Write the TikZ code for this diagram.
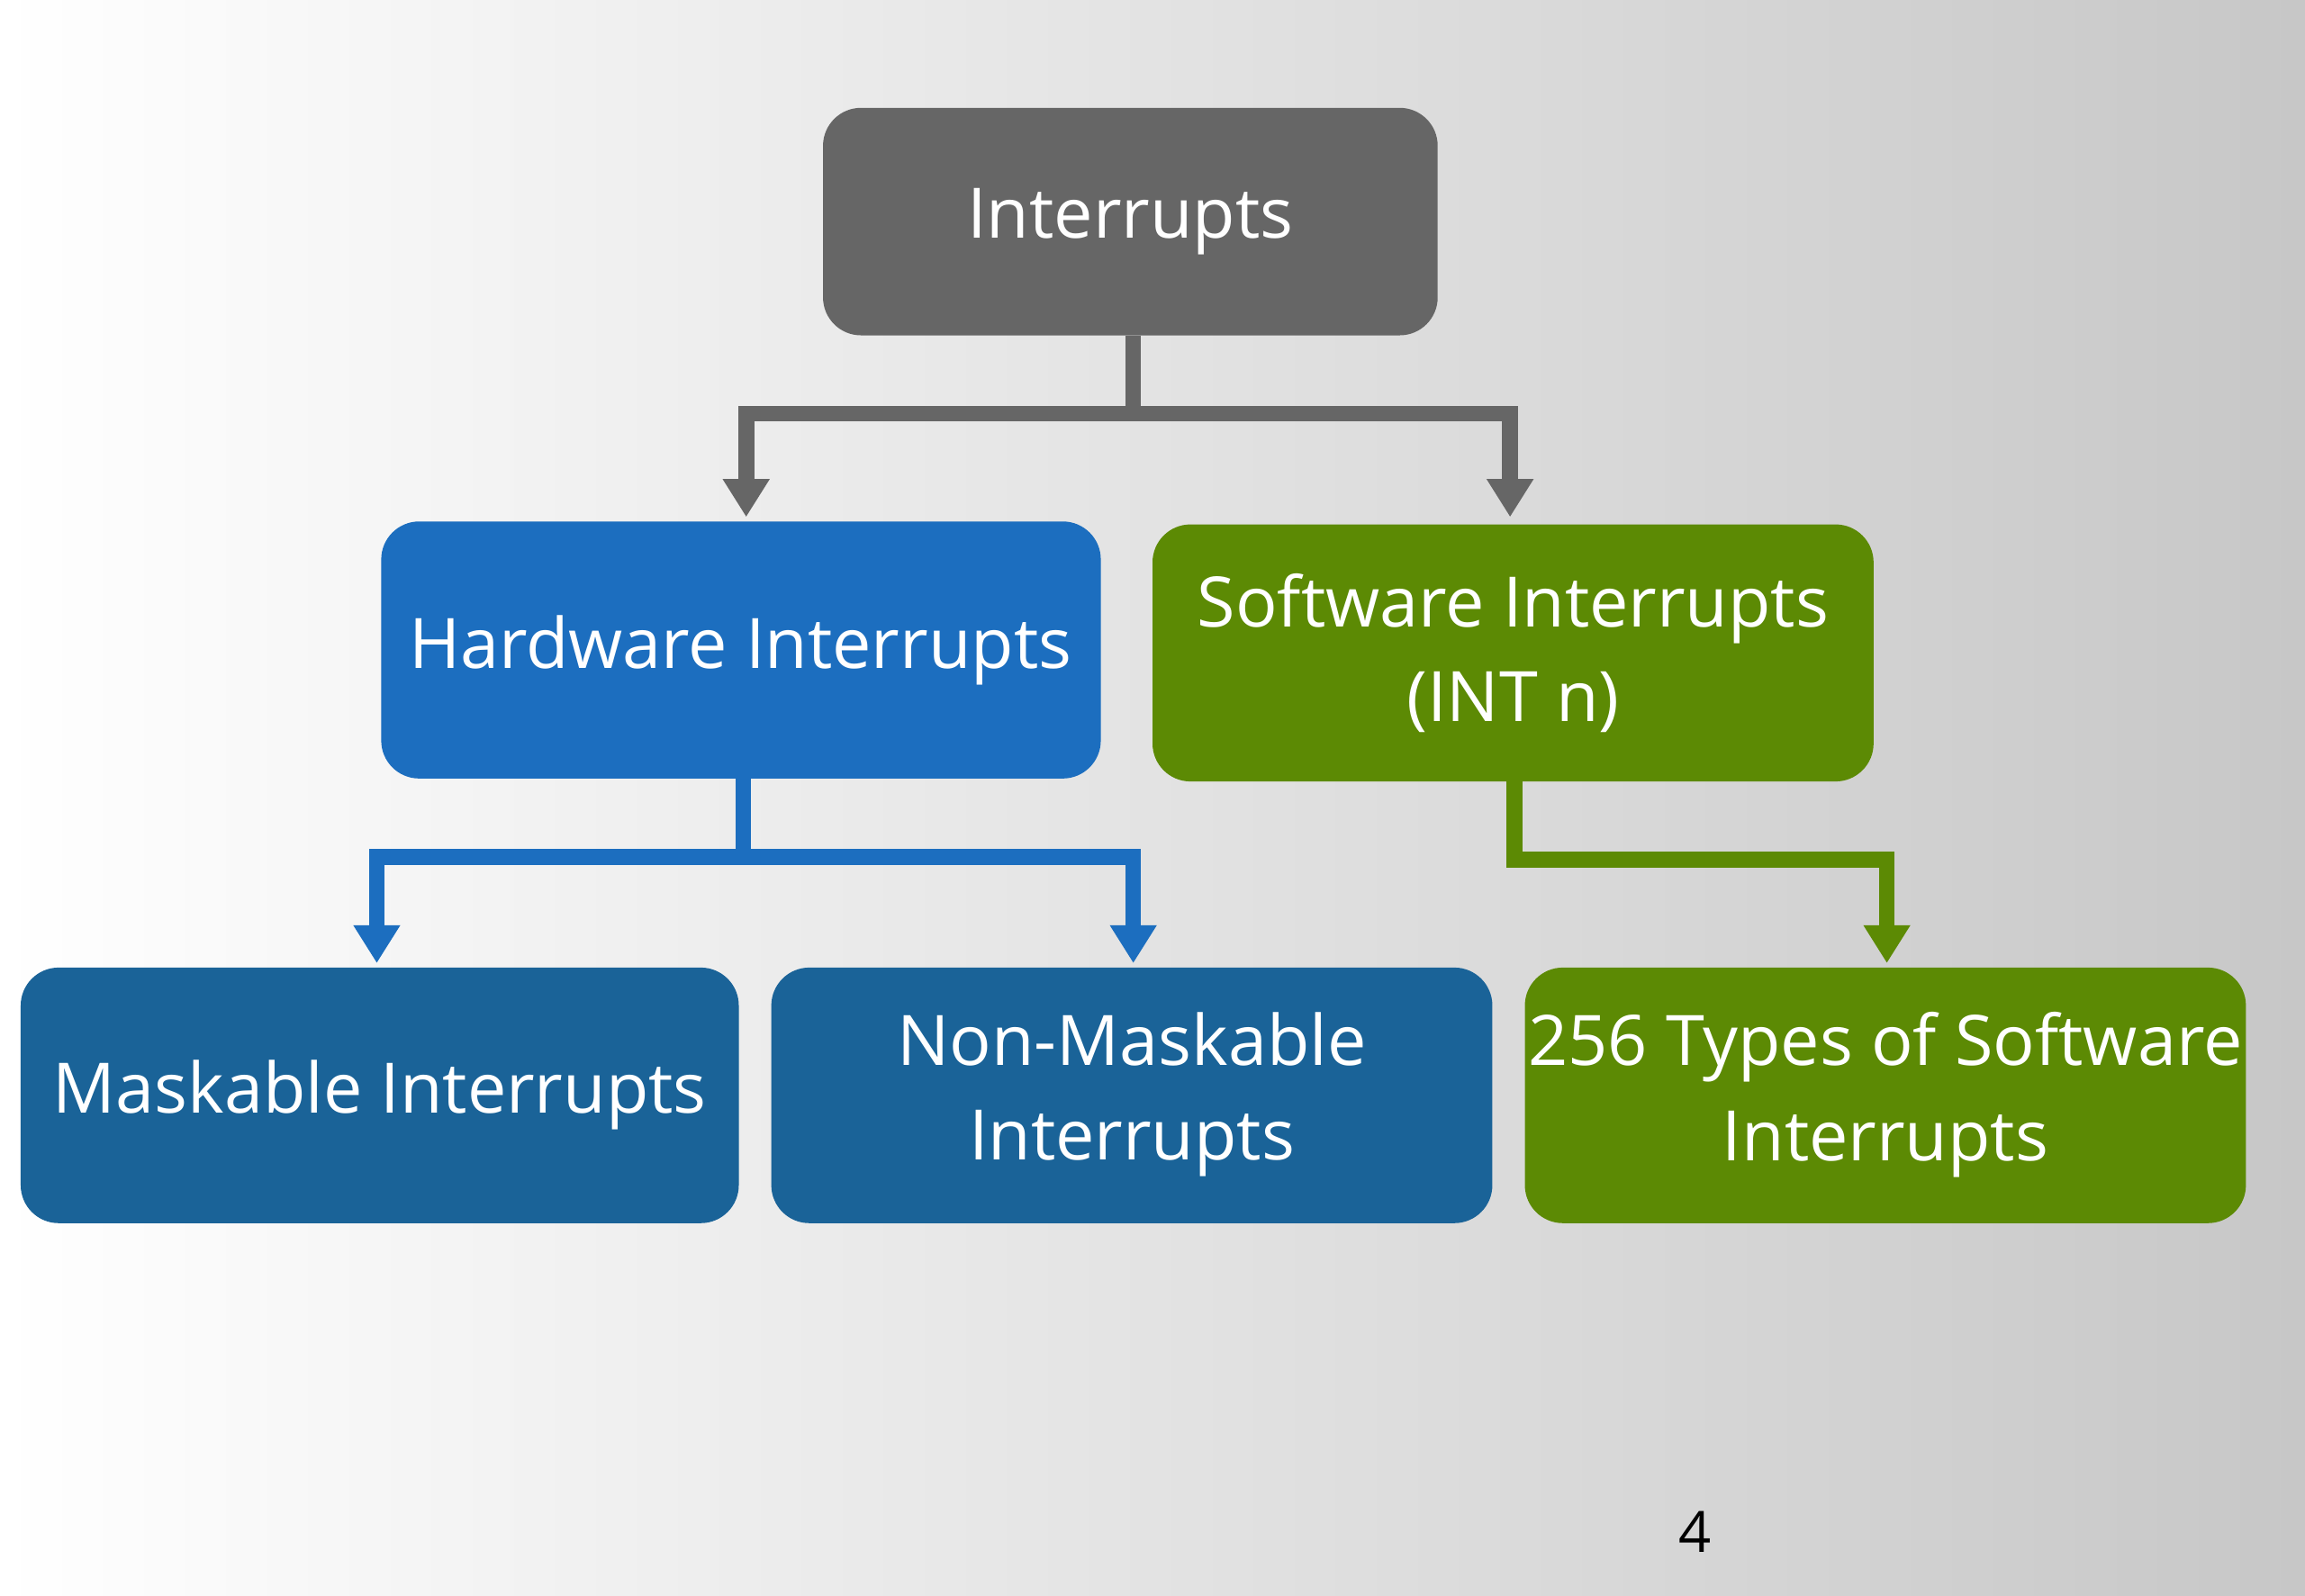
\documentclass[tikz,border=0pt]{standalone}
\usepackage{fontspec}
\setmainfont{Open Sans}
\usetikzlibrary{arrows.meta}
\definecolor{cgray}{HTML}{666666}
\definecolor{cblue}{HTML}{1C6EBF}
\definecolor{cdblue}{HTML}{1A6398}
\definecolor{cgreen}{HTML}{5C8A04}
\begin{document}
\begin{tikzpicture}[x=0.01641cm,y=-0.01641cm,
 box/.style={rounded corners=12pt,text=white,align=center,font=\fontsize{22}{30}\selectfont,inner sep=0pt},
 conn/.style={line width=5pt,-{Triangle[length=12pt,width=14pt]}}]
\shade[left color=white,right color=black!22] (0,0) rectangle (1560,1080);
\useasboundingbox (0,0) rectangle (1560,1080);
\path[fill=cgray,rounded corners=12pt] (557,73) rectangle (973,227);
\node[box] (top) at (765,150) {Interrupts};
\coordinate (topb) at (767,227);
\path[fill=cblue,rounded corners=12pt] (258,353) rectangle (745,527);
\node[box] (hw) at (501,440) {Hardware Interrupts};
\path[fill=cgreen,rounded corners=12pt] (780,355) rectangle (1268,529);
\node[box] (sw) at (1024,442) {Software Interrupts\\(INT n)};
\path[fill=cdblue,rounded corners=12pt] (14,655) rectangle (500,828);
\node[box] (mi) at (257,741) {Maskable Interrupts};
\path[fill=cdblue,rounded corners=12pt] (522,655) rectangle (1010,828);
\node[box] (nmi) at (766,741) {Non-Maskable\\Interrupts};
\path[fill=cgreen,rounded corners=12pt] (1032,655) rectangle (1520,828);
\node[box] (t256) at (1276,741) {256 Types of Software\\Interrupts};
\coordinate (a1) at (505,350); \coordinate (a2) at (1022,350);
\coordinate (b0) at (503,527); \coordinate (b1) at (255,652); \coordinate (b2) at (767,652);
\coordinate (c0) at (1025,529); \coordinate (c1) at (1277,652);
\draw[conn,cgray] (topb) -- (767,280) -| (a1);
\draw[conn,cgray] (767,280) -| (a2);
\draw[conn,cblue] (b0) -- (503,580) -| (b1);
\draw[conn,cblue] (503,580) -| (b2);
\draw[conn,cgreen] (c0) -- (1025,582) -| (c1);
\node[font=\fontsize{18}{20}\selectfont] (pg) at (1147,1037) {4};
\end{tikzpicture}
\end{document}
